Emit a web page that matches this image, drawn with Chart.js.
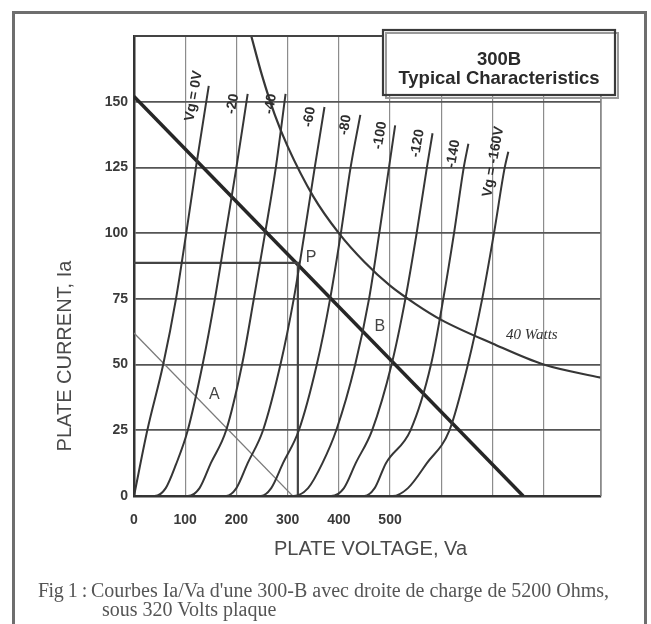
<!DOCTYPE html>
<html>
<head>
<meta charset="utf-8">
<script src="https://cdn.jsdelivr.net/npm/chart.js@4.4.1/dist/chart.umd.min.js"></script>
<style>
  html, body { margin: 0; padding: 0; background: #fff; overflow: hidden; }
  #page { position: relative; width: 651px; height: 624px; }
  #frame { position: absolute; left: 12px; top: 11px; width: 629px; height: 700px; border: 3px solid #6e6e6e; }
  #chart { position: absolute; left: 0; top: 0; }
  .caption { position: absolute; font-family: "Liberation Serif", serif; font-size: 20px; line-height: 20px; color: #555; white-space: nowrap; }
</style>
</head>
<body>
<div id="page">
  <div id="frame"></div>
  <canvas id="chart" width="651" height="624"></canvas>
  <div class="caption" style="left:38px; top:580px; letter-spacing:-0.5px">Fig 1 :</div>
  <div class="caption" style="left:91px; top:580px">Courbes Ia/Va d'une 300-B avec droite de charge de 5200 Ohms,</div>
  <div class="caption" style="left:102px; top:599px">sous 320 Volts plaque</div>
</div>
<script>
// plate curves: [Va (V), Ia (mA)] for each grid bias
const vg0   = [[0, 0], [26, 25], [57, 50], [82, 75], [102, 100], [121, 125], [146, 156]];
const vg20  = [[15, 0], [40, 0], [62, 3], [82, 12], [105, 25], [134, 50], [158, 75], [179, 100], [200, 125], [222, 153]];
const vg40  = [[80, 0], [105, 0], [128, 3], [150, 12.5], [180, 25], [211, 50], [234, 75], [256, 100], [277, 125], [296, 153]];
const vg60  = [[155, 0], [180, 0], [200, 3], [222, 12.5], [252, 25], [286, 50], [312, 75], [333, 100], [353, 125], [372, 148]];
const vg80  = [[223, 0], [248, 0], [268, 3], [291, 12.5], [322, 25], [357, 50], [383, 75], [404, 100], [423, 125], [442, 145]];
const vg100 = [[287, 0], [312, 0], [340, 3], [368, 12.5], [395, 25], [432, 50], [459, 75], [479, 100], [498, 125], [510, 141]];
const vg120 = [[360, 0], [385, 0], [410, 3], [433, 12.5], [465, 25], [503, 50], [530, 75], [552, 100], [572, 125], [583, 138]];
const vg140 = [[425, 0], [450, 0], [470, 3], [492, 12.5], [540, 25], [580, 50], [604, 75], [625, 100], [644, 125], [653, 134]];
const vg160 = [[480, 0], [505, 0], [535, 3], [572, 12.5], [616, 25], [652, 50], [680, 75], [703, 100], [724, 125], [731, 131]];
const curveLabels = ['Vg = 0V', '-20', '-40', '-60', '-80', '-100', '-120', '-140', 'Vg = -160V'];

const loadLine = [[0, 152], [760, 0]];   // 5200 ohms
const lineA = [[0, 62], [310, 0]];
const watts40 = [[229, 175], [250, 160], [275, 145], [300, 133], [350, 114], [400, 100], [450, 89],
                 [500, 80], [550, 73], [600, 67], [700, 58], [800, 50], [912, 45]];
const pointP = [[0, 88.7], [320, 88.7], [320, 0]];
const notes = [['P', 346, 90.6], ['B', 480, 64.3], ['A', 157, 38.4], ['40 Watts', 777, 61.3]];

const xMax = 912, yMax = 175;
const xLabelMax = 500, yLabelMax = 150;

const gridCurves = [vg0, vg20, vg40, vg60, vg80, vg100, vg120, vg140, vg160];
const toXY = pts => pts.map(p => ({x: p[0], y: p[1]}));

let datasets = gridCurves.map(c => ({
  data: toXY(c), showLine: true, borderColor: '#363636', borderWidth: 2,
  pointRadius: 0, cubicInterpolationMode: 'monotone'
}));
datasets.push({data: toXY(watts40), showLine: true, borderColor: '#363636', borderWidth: 2.2, pointRadius: 0, cubicInterpolationMode: 'monotone'});
datasets.push({data: toXY(lineA), showLine: true, borderColor: '#7a7a7a', borderWidth: 1.2, pointRadius: 0});
datasets.push({data: toXY(pointP), showLine: true, borderColor: '#444', borderWidth: 2.2, pointRadius: 0});
datasets.push({data: toXY(loadLine), showLine: true, borderColor: '#262626', borderWidth: 3.5, pointRadius: 0});

const sans = '"Liberation Sans", Arial, sans-serif';

var figureText = {
  id: 'figureText',
  afterDatasetsDraw(chart) {
    const {ctx, chartArea: a, scales: {x, y}} = chart;
    ctx.save();

    // top and right edges of the plot
    ctx.strokeStyle = '#444';
    ctx.lineWidth = 2;
    ctx.beginPath(); ctx.moveTo(a.left, a.top); ctx.lineTo(a.right, a.top); ctx.stroke();
    ctx.strokeStyle = '#8a8a8a';
    ctx.lineWidth = 1.5;
    ctx.beginPath(); ctx.moveTo(a.right, a.top); ctx.lineTo(a.right, a.bottom); ctx.stroke();

    // bias labels above each curve
    ctx.fillStyle = '#2e2e2e';
    ctx.font = 'bold 14px ' + sans;
    ctx.textAlign = 'center';
    ctx.textBaseline = 'middle';
    gridCurves.forEach((c, i) => {
      const top = c[c.length - 1];
      ctx.save();
      ctx.translate(x.getPixelForValue(top[0]) - 15, y.getPixelForValue(top[1]) + 10);
      ctx.rotate(-80 * Math.PI / 180);
      ctx.fillText(curveLabels[i], 0, 0);
      ctx.restore();
    });

    // point notes
    notes.forEach(n => {
      if (n[0] === '40 Watts') {
        ctx.font = 'italic 15px "Liberation Serif", serif';
        ctx.fillStyle = '#333';
      } else {
        ctx.font = '16px ' + sans;
        ctx.fillStyle = '#444';
      }
      ctx.fillText(n[0], x.getPixelForValue(n[1]), y.getPixelForValue(n[2]));
    });

    // title box
    const bx = a.right - 218, by = a.top - 6, bw = 232, bh = 65;
    ctx.fillStyle = '#fff';
    ctx.fillRect(bx, by, bw, bh);
    ctx.strokeStyle = '#9a9a9a';
    ctx.lineWidth = 2;
    ctx.strokeRect(bx + 3, by + 3, bw, bh);
    ctx.strokeStyle = '#3a3a3a';
    ctx.lineWidth = 2.2;
    ctx.strokeRect(bx, by, bw, bh);
    ctx.fillStyle = '#2a2a2a';
    ctx.font = 'bold 18.5px ' + sans;
    ctx.fillText('300B', bx + bw / 2, by + 30);
    ctx.fillText('Typical Characteristics', bx + bw / 2, by + 49);

    // axis titles
    ctx.fillStyle = '#4a4a4a';
    ctx.font = '20px ' + sans;
    ctx.fillText('PLATE VOLTAGE, Va', (a.left + a.right) / 2 + 3, a.bottom + 53);
    ctx.translate(65, 356);
    ctx.rotate(-Math.PI / 2);
    ctx.fillText('PLATE CURRENT, Ia', 0, 0);
    ctx.restore();
  }
};

new Chart(document.getElementById('chart'), {
  type: 'scatter',
  data: {datasets: datasets},
  options: {
    responsive: false,
    animation: false,
    devicePixelRatio: 1,
    layout: {padding: {left: 0, top: 36, right: 50, bottom: 0}},
    plugins: {legend: {display: false}, tooltip: {enabled: false}},
    scales: {
      x: {
        type: 'linear', min: 0, max: xMax,
        afterFit: s => { s.height = 128; },
        ticks: {
          stepSize: 100, autoSkip: false, maxRotation: 0, padding: 16,
          color: '#3a3a3a', font: {family: sans, size: 14, weight: 'bold'},
          callback: v => (v <= xLabelMax ? v : '')
        },
        grid: {color: '#8c8c8c', lineWidth: 1.2, drawTicks: false},
        border: {color: '#333', width: 2.5}
      },
      y: {
        type: 'linear', min: 0, max: yMax,
        afterFit: s => { s.width = 134; },
        ticks: {
          stepSize: 25, padding: 6,
          color: '#3a3a3a', font: {family: sans, size: 14, weight: 'bold'},
          callback: v => (v <= yLabelMax ? v : '')
        },
        grid: {color: '#555', lineWidth: 1.8, drawTicks: false},
        border: {color: '#333', width: 2.5}
      }
    }
  },
  plugins: [figureText]
});
</script>
</body>
</html>
